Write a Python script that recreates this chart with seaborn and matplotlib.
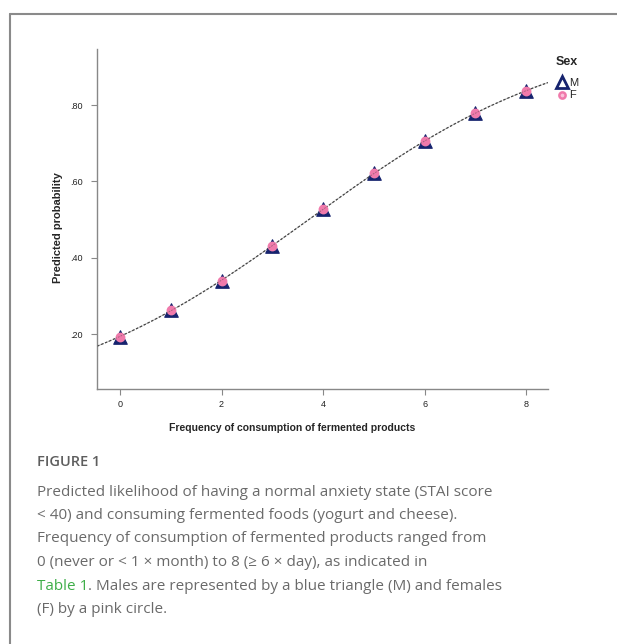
# Predicted probability vs frequency of fermented product consumption, by sex

import numpy as np
import pandas as pd
import seaborn as sns
import matplotlib.pyplot as plt
from matplotlib.lines import Line2D

# Data
frequency = [0, 1, 2, 3, 4, 5, 6, 7, 8]
prob_male = [0.193, 0.263, 0.339, 0.432, 0.527, 0.621, 0.706, 0.780, 0.837]
prob_female = [0.193, 0.263, 0.339, 0.432, 0.527, 0.621, 0.706, 0.780, 0.837]
sex_labels = ["M", "F"]
x_ticks = [0, 2, 4, 6, 8]
y_ticks = [0.20, 0.40, 0.60, 0.80]
y_tick_labels = [".20", ".40", ".60", ".80"]

df = pd.DataFrame({
    "Frequency": frequency * 2,
    "Prob": prob_male + prob_female,
    "Sex": ["M"] * len(frequency) + ["F"] * len(frequency),
})

# logistic fit line through the predicted points
p = np.array(prob_male)
slope, intercept = np.polyfit(frequency, np.log(p / (1 - p)), 1)
x_fit = np.linspace(-0.45, 8.43, 200)
y_fit = 1 / (1 + np.exp(-(intercept + slope * x_fit)))

sns.set_style("white")
plt.rcParams["font.family"] = ["Liberation Sans", "DejaVu Sans"]

navy = "#16236e"
pink = "#f07aab"
frame_col = "#8a8a8a"

fig = plt.figure(figsize=(6.17, 6.44), dpi=100)
ax = fig.add_axes([97 / 617, 1 - 389 / 644, (548 - 97) / 617, (389 - 49) / 644])

ax.plot(x_fit, y_fit, color="#444444", lw=0.9, linestyle=(0, (2, 1.4)), zorder=1)

sns.scatterplot(data=df[df["Sex"] == "M"], x="Frequency", y="Prob", marker="^",
                s=95, color=navy, edgecolor=navy, linewidth=0.8, ax=ax,
                legend=False, zorder=2)
sns.scatterplot(data=df[df["Sex"] == "F"], x="Frequency", y="Prob", marker="o",
                s=50, color=pink, edgecolor=pink, linewidth=0, ax=ax,
                legend=False, zorder=3)
# the fit line shows faintly over the markers
ax.plot(x_fit, y_fit, color="#444444", lw=0.6, linestyle=(0, (2, 1.4)), alpha=0.5, zorder=4)

ax.set_xlim(-0.453, 8.43)
ax.set_ylim(0.056, 0.947)
ax.set_xticks(x_ticks)
ax.set_xticklabels([str(t) for t in x_ticks])
ax.set_yticks(y_ticks)
ax.set_yticklabels(y_tick_labels)
ax.tick_params(axis="both", labelsize=6.5, length=4, width=0.8, color="#888888",
               labelcolor="#222222", direction="out", bottom=True, left=True)
ax.tick_params(axis="x", pad=4)
ax.tick_params(axis="y", pad=6)
for side in ["top", "right"]:
    ax.spines[side].set_visible(False)
for side in ["left", "bottom"]:
    ax.spines[side].set_color("#888888")
    ax.spines[side].set_linewidth(1.0)

ax.set_xlabel("Frequency of consumption of fermented products", fontsize=7.5,
              fontweight="bold")
ax.xaxis.set_label_coords(0.432, -0.1)
ax.set_ylabel("Predicted probability", fontsize=8, fontweight="bold")
ax.yaxis.set_label_coords(-0.075, 0.476)

# legend
handles = [
    Line2D([], [], marker="^", linestyle="none", markersize=8.5, markerfacecolor="none",
           markeredgecolor=navy, markeredgewidth=2),
    Line2D([], [], marker="o", linestyle="none", markersize=4.5, markerfacecolor="#fbc3da",
           markeredgecolor=pink, markeredgewidth=1.8),
]
leg = fig.legend(handles, sex_labels, title="Sex", loc="upper left",
                 bbox_to_anchor=(556 / 617, 1 - 56 / 644), frameon=False,
                 fontsize=8, handlelength=1.0, handletextpad=0.15,
                 labelspacing=0.25, borderpad=0, borderaxespad=0)
leg.get_title().set_fontweight("bold")
leg.get_title().set_fontsize(9)
leg._legend_box.align = "left"
leg._legend_box.sep = 7

# outer frame
fig.add_artist(Line2D([9.5 / 617, 9.5 / 617], [0, 1 - 14 / 644], color=frame_col,
                      lw=1.5, transform=fig.transFigure))
fig.add_artist(Line2D([9.5 / 617, 1], [1 - 14 / 644, 1 - 14 / 644], color=frame_col,
                      lw=1.5, transform=fig.transFigure))

# caption
cap_font = ["Open Sans", "DejaVu Sans"]
cap_col = "#6a6a6a"
cap_size = 11.0
fig.text(37 / 617, 1 - 462 / 644, "FIGURE 1", fontsize=10.5, color="#5e5e5e",
         family=cap_font, fontweight="semibold", va="center")
lines = [
    "Predicted likelihood of having a normal anxiety state (STAI score",
    "< 40) and consuming fermented foods (yogurt and cheese).",
    "Frequency of consumption of fermented products ranged from",
    "0 (never or < 1 \u00d7 month) to 8 (\u2265 6 \u00d7 day), as indicated in",
]
line_y = [492, 515.5, 539, 562.5, 586, 609.5]
for txt, yy in zip(lines, line_y):
    fig.text(37 / 617, 1 - yy / 644, txt, fontsize=cap_size, color=cap_col,
             family=cap_font, va="center")
t = fig.text(37 / 617, 1 - line_y[4] / 644, "Table 1", fontsize=cap_size, color="#3fae49",
             family=cap_font, va="center")
ax.annotate(". Males are represented by a blue triangle (M) and females",
            xy=(1, 0.5), xycoords=t, va="center", ha="left", fontsize=cap_size,
            color=cap_col, family=cap_font, annotation_clip=False)
fig.text(37 / 617, 1 - line_y[5] / 644, "(F) by a pink circle.", fontsize=cap_size,
         color=cap_col, family=cap_font, va="center")

fig.savefig("out.png", dpi=100)
